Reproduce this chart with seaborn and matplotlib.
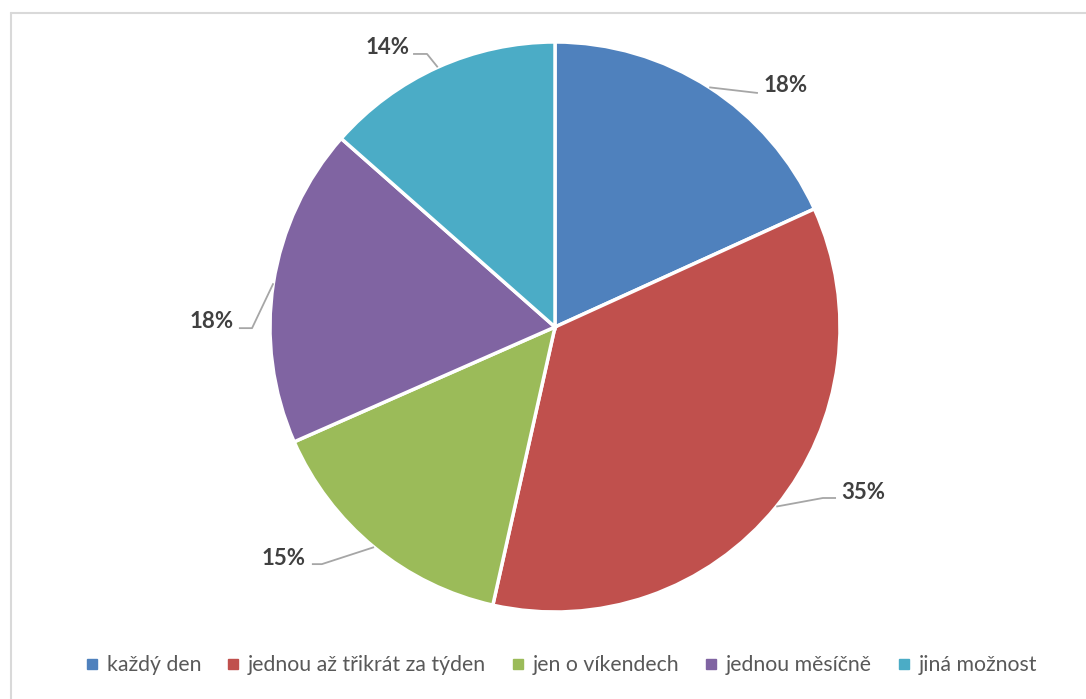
import matplotlib
matplotlib.use("Agg")
import matplotlib.pyplot as plt
from matplotlib.lines import Line2D
import seaborn as sns
import numpy as np

# data (slice shares, labels as printed)
kategorie = ['každý den', 'jednou až třikrát za týden', 'jen o víkendech',
             'jednou měsíčně', 'jiná možnost']
podily = [18.2, 35.3, 14.9, 18.1, 13.5]
popisky = ['18%', '35%', '15%', '18%', '14%']
barvy = ['#4F81BD', '#C0504D', '#9BBB59', '#8064A2', '#4BACC6']

# label layout (pie-radius units): text anchor, leader elbow, leader end x
text_pos = [(0.730, 0.846), (1.004, -0.579), (-0.874, -0.811), (-1.126, 0.021), (-0.512, 0.979)]
elbow_pos = [(0.712, 0.821), (0.940, -0.600), (-0.818, -0.832), (-1.063, -0.004), (-0.449, 0.958)]
end_x = [0.712, 0.986, -0.853, -1.109, -0.498]

sns.set_theme(style='white')
plt.rcParams['font.family'] = ['Lato', 'DejaVu Sans']

fig = plt.figure(figsize=(10.86, 6.99), dpi=100)
ax = fig.add_axes([0, 0, 1, 1])
R = 285.0
cx, cy = 555.0, 327.0

wedges, _ = ax.pie(podily, colors=barvy, startangle=90, counterclock=False,
                   radius=1.0, wedgeprops=dict(edgecolor='white', linewidth=2.5))
ax.set_xlim(-cx / R, (1086 - cx) / R)
ax.set_ylim(-(699 - cy) / R, cy / R)
ax.set_aspect('equal')
ax.axis('off')

for w, lab, tp, ep, xe in zip(wedges, popisky, text_pos, elbow_pos, end_x):
    mid = np.deg2rad((w.theta1 + w.theta2) / 2)
    ex, ey = np.cos(mid), np.sin(mid)
    ha = 'left' if tp[0] > 0 else 'right'
    ax.plot([ex, ep[0], xe], [ey, ep[1], ep[1]], color='#A6A6A6', lw=1.3,
            solid_capstyle='butt')
    ax.text(tp[0], tp[1], lab, ha=ha, va='center', fontsize=16,
            fontweight='bold', color='#404040')

handles = [Line2D([0], [0], marker='s', linestyle='none', markersize=7,
                  markerfacecolor=c, markeredgecolor=c) for c in barvy]
fig.legend(handles, kategorie, loc='center', bbox_to_anchor=(0.516, 0.048),
           ncol=5, frameon=False, fontsize=15.3, handletextpad=0.3,
           columnspacing=1.1, labelcolor='#595959', handlelength=0.8)

# outer frame (top and left edges visible)
fig.add_artist(Line2D([10.5 / 1086, 1.0], [1 - 13 / 699, 1 - 13 / 699],
                      transform=fig.transFigure, color='#D9D9D9', lw=1.5))
fig.add_artist(Line2D([10.5 / 1086, 10.5 / 1086], [0, 1 - 13 / 699],
                      transform=fig.transFigure, color='#D9D9D9', lw=1.5))

fig.savefig('out.png', dpi=100, facecolor='white')
